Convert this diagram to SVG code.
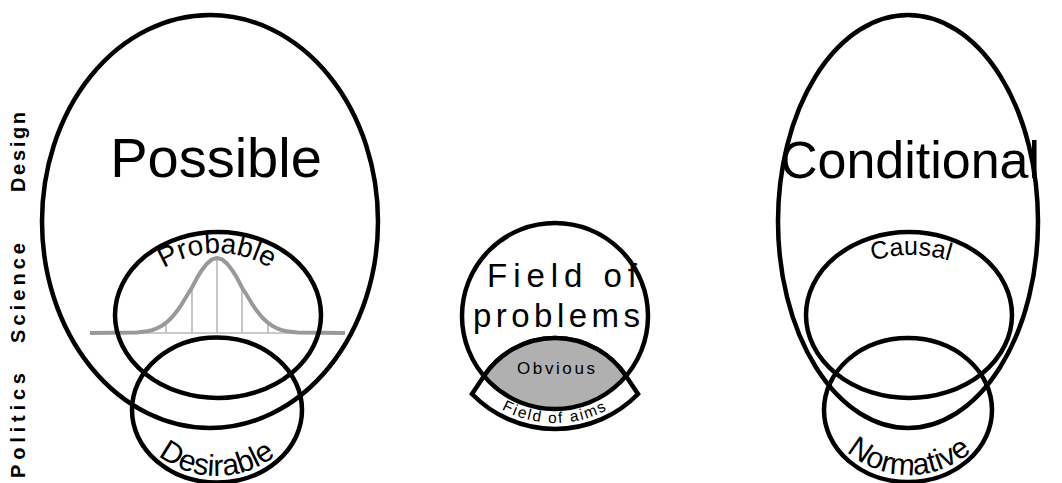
<svg xmlns="http://www.w3.org/2000/svg" width="1062" height="483" viewBox="0 0 1062 483">
<style>
.ln{fill:none;stroke:#000;stroke-width:4.5}
.t{font-family:"Liberation Sans",Arial,sans-serif;fill:#000}
.side{font-family:"Liberation Sans",Arial,sans-serif;font-weight:bold;font-size:20px;fill:#000}
.g1{fill:none;stroke:#999;stroke-width:4;stroke-linejoin:round}
.g2{fill:none;stroke:#b8b8b8;stroke-width:1.6}
</style>
<defs>
<path id="pProb" d="M117,353 A100,100 0 0 1 317,353"/>
<path id="pDes" d="M122,381 A95,95 0 0 0 312,381"/>
<path id="pCaus" d="M781,385 A130,130 0 0 1 1041,385"/>
<path id="pNorm" d="M814,380 A95,95 0 0 0 1004,380"/>
<path id="pAims" d="M445,313 A110,110 0 0 0 665,313"/>
</defs>
<rect width="1062" height="483" fill="#fff"/>

<g id="labels">
<text class="side" transform="translate(25,478) rotate(-90)" textLength="105" lengthAdjust="spacing">Politics</text>
<text class="side" transform="translate(25,343) rotate(-90)" textLength="100" lengthAdjust="spacing">Science</text>
<text class="side" transform="translate(25,192) rotate(-90)" textLength="80" lengthAdjust="spacing">Design</text>
</g>

<g id="probable-curve">
<line class="g2" x1="90" y1="333" x2="345" y2="333"/>
<line class="g2" x1="166" y1="333" x2="166" y2="323"/>
<line class="g2" x1="192" y1="333" x2="192" y2="287.5"/>
<line class="g2" x1="217" y1="333" x2="217" y2="258"/>
<line class="g2" x1="242" y1="333" x2="242" y2="287.5"/>
<line class="g2" x1="268" y1="333" x2="268" y2="323"/>
<polyline class="g1" points="90,333 137,332.5 147,331.3 152,330.1 157,328.3 162,325.7 167,322 172,317.2 177,311.1 182,303.8 187,295.5 192,287.5 197,277.9 202,269.9 207,263.6 212,259.4 217,258 222,259.4 227,263.6 232,269.9 237,277.9 242,287.5 247,295.5 252,303.8 257,311.1 262,317.2 267,322 272,325.7 277,328.3 282,330.1 287,331.3 297,332.5 345,333"/>
</g>

<g id="possible">
<ellipse class="ln" cx="210" cy="221.5" rx="168" ry="206.5"/>
<text class="t" x="216" y="177" font-size="56" text-anchor="middle">Possible</text>
</g>
<g id="probable">
<ellipse class="ln" cx="218" cy="315" rx="103" ry="83"/>
<text class="t" font-size="28"><textPath href="#pProb" startOffset="50%" text-anchor="middle">Probable</textPath></text>
</g>
<g id="desirable">
<ellipse class="ln" cx="217" cy="410" rx="85" ry="72.5"/>
<text class="t" font-size="30"><textPath href="#pDes" startOffset="50%" text-anchor="middle">Desirable</textPath></text>
</g>

<g id="field-of-aims">
<path d="M484,376 A85.3,85.3 0 0 1 626,376 L638,394 A115.9,115.9 0 0 1 472,394 Z" fill="#fff" stroke="#000" stroke-width="4.5" stroke-linejoin="miter"/>
<text class="t" font-size="15.5" letter-spacing="1.8"><textPath href="#pAims" startOffset="50%" text-anchor="middle">Field of aims</textPath></text>
</g>
<g id="obvious">
<path d="M484,376 A85.3,85.3 0 0 1 626,376 A93,93 0 0 1 484,376 Z" fill="#b0b0b0" stroke="none"/>
<path class="ln" d="M484,376 A85.3,85.3 0 0 1 626,376"/>
<text class="t" x="556" y="374" font-size="17" textLength="78" lengthAdjust="spacing" text-anchor="middle">Obvious</text>
</g>
<g id="field-of-problems">
<circle class="ln" cx="555" cy="316" r="93"/>
<text class="t" x="487" y="287" font-size="33" textLength="150" lengthAdjust="spacing">Field of</text>
<text class="t" x="473" y="327" font-size="33" textLength="167" lengthAdjust="spacing">problems</text>
</g>

<g id="conditional">
<ellipse class="ln" cx="908" cy="221.5" rx="130" ry="206.5"/>
<text class="t" x="910" y="178" font-size="52" text-anchor="middle">Conditional</text>
</g>
<g id="causal">
<ellipse class="ln" cx="909" cy="315" rx="103" ry="83"/>
<text class="t" font-size="25"><textPath href="#pCaus" startOffset="50%" text-anchor="middle">Causal</textPath></text>
</g>
<g id="normative">
<ellipse class="ln" cx="908" cy="410" rx="84" ry="72"/>
<text class="t" font-size="30"><textPath href="#pNorm" startOffset="50%" text-anchor="middle">Normative</textPath></text>
</g>
<g id="connectors"/>
</svg>
